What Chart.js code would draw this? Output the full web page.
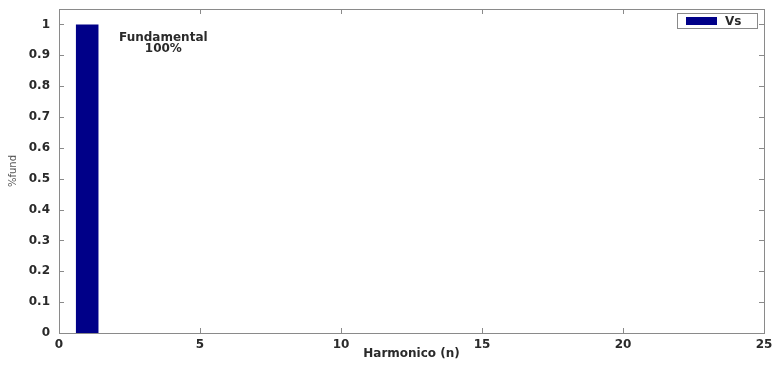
<!DOCTYPE html>
<html>
<head>
<meta charset="utf-8">
<script src="https://cdn.jsdelivr.net/npm/chart.js@4.4.1/dist/chart.umd.min.js"></script>
<style>
    html, body { margin: 0; padding: 0; background: #fff; }
    #wrap { width: 774px; height: 365px; position: relative; }
</style>
</head>
<body>
<div id="wrap"><canvas id="chart"></canvas></div>
<script>
'use strict';

// harmonic orders 1..25 and their level relative to the fundamental
var harmonics = [1, 2, 3, 4, 5, 6, 7, 8, 9, 10, 11, 12, 13, 14, 15, 16, 17, 18, 19, 20, 21, 22, 23, 24, 25];
var vsValues = [1, 0, 0, 0, 0, 0, 0, 0, 0, 0, 0, 0, 0, 0, 0, 0, 0, 0, 0, 0, 0, 0, 0, 0, 0];
var xTicks = [0, 5, 10, 15, 20, 25];
var yTicks = [0, 0.1, 0.2, 0.3, 0.4, 0.5, 0.6, 0.7, 0.8, 0.9, 1];
var seriesName = 'Vs';
var noteLines = ['Fundamental', '100%'];
var notePos = { x: 3.7, y: 0.955 };

var barColor = '#000088';
var axisColor = '#8a8a8a';
var textColor = '#2a2a2a';
var boldFont = { family: 'DejaVu Sans', size: 12, weight: 'bold' };

function line(ctx, x1, y1, x2, y2) {
    ctx.beginPath();
    ctx.moveTo(x1, y1);
    ctx.lineTo(x2, y2);
    ctx.stroke();
}

// keep tick labels from pushing the plot area around
function noScalePadding(scale) {
    scale.paddingTop = 0;
    scale.paddingBottom = 0;
    scale.paddingLeft = 0;
    scale.paddingRight = 0;
}

// matlab style box with inward ticks, the text note and the legend
var matlabBox = {
    id: 'matlabBox',
    afterDraw: function (chart) {
        var ctx = chart.ctx, a = chart.chartArea;
        var x = chart.scales.x, y = chart.scales.y;
        ctx.save();
        ctx.strokeStyle = axisColor;
        ctx.lineWidth = 1;
        ctx.strokeRect(Math.round(a.left) + 0.5, Math.round(a.top) + 0.5,
            Math.round(a.right - a.left), Math.round(a.bottom - a.top));

        xTicks.forEach(function (v) {
            var px = Math.round(x.getPixelForValue(v)) + 0.5;
            line(ctx, px, a.bottom, px, a.bottom - 5);
            line(ctx, px, a.top, px, a.top + 5);
        });
        yTicks.forEach(function (v) {
            var py = Math.round(y.getPixelForValue(v)) + 0.5;
            line(ctx, a.left, py, a.left + 5, py);
            line(ctx, a.right, py, a.right - 5, py);
        });

        // note over the fundamental
        ctx.fillStyle = textColor;
        ctx.font = 'bold 12px "DejaVu Sans"';
        ctx.textAlign = 'center';
        ctx.textBaseline = 'middle';
        var nx = x.getPixelForValue(notePos.x), ny = y.getPixelForValue(notePos.y);
        noteLines.forEach(function (t, i) {
            ctx.fillText(t, nx, ny + i * 11);
        });

        // legend
        var lx = a.right - 87, ly = a.top + 4;
        ctx.fillStyle = '#fff';
        ctx.fillRect(lx, ly, 80, 15);
        ctx.strokeStyle = '#8a8a8a';
        ctx.strokeRect(lx + 0.5, ly + 0.5, 80, 15);
        ctx.fillStyle = barColor;
        ctx.fillRect(lx + 9, ly + 4, 31, 8);
        ctx.fillStyle = textColor;
        ctx.textAlign = 'left';
        ctx.fillText(seriesName, lx + 48, ly + 8.5);
        ctx.restore();
    }
};

var chart = new Chart(document.getElementById('chart'), {
    type: 'bar',
    data: {
        datasets: [{
            label: seriesName,
            data: harmonics.map(function (h, i) { return { x: h, y: vsValues[i] }; }),
            backgroundColor: barColor,
            borderWidth: 0,
            barPercentage: 0.8,
            categoryPercentage: 1.0
        }]
    },
    options: {
        responsive: true,
        maintainAspectRatio: false,
        animation: false,
        devicePixelRatio: 1,
        layout: { padding: { top: 9, right: 10, left: 0, bottom: 0 } },
        plugins: {
            legend: { display: false },
            tooltip: { enabled: false }
        },
        scales: {
            x: {
                type: 'linear',
                min: 0,
                max: 25,
                offset: false,
                grid: { display: false, drawTicks: false, offset: false },
                border: { display: false },
                afterBuildTicks: function (scale) {
                    scale.ticks = xTicks.map(function (v) { return { value: v }; });
                },
                afterFit: function (scale) {
                    scale.height = 32;
                    noScalePadding(scale);
                },
                ticks: { color: textColor, font: boldFont, padding: 5, maxRotation: 0 },
                title: {
                    display: true,
                    text: 'Harmonico (n)',
                    color: textColor,
                    font: boldFont,
                    padding: { top: 0, bottom: 4 }
                }
            },
            y: {
                min: 0,
                max: 1.05,
                grid: { display: false, drawTicks: false },
                border: { display: false },
                afterBuildTicks: function (scale) {
                    scale.ticks = yTicks.map(function (v) { return { value: v }; });
                },
                afterFit: function (scale) {
                    scale.width = 59;
                    noScalePadding(scale);
                },
                ticks: {
                    color: textColor,
                    font: boldFont,
                    padding: 9,
                    callback: function (v) { return String(Math.round(v * 10) / 10); }
                },
                title: {
                    display: true,
                    text: '%fund',
                    color: '#555',
                    font: { family: 'DejaVu Sans', size: 10 },
                    padding: { top: 7, bottom: 0 }
                }
            }
        }
    },
    plugins: [matlabBox]
});
</script>
</body>
</html>
